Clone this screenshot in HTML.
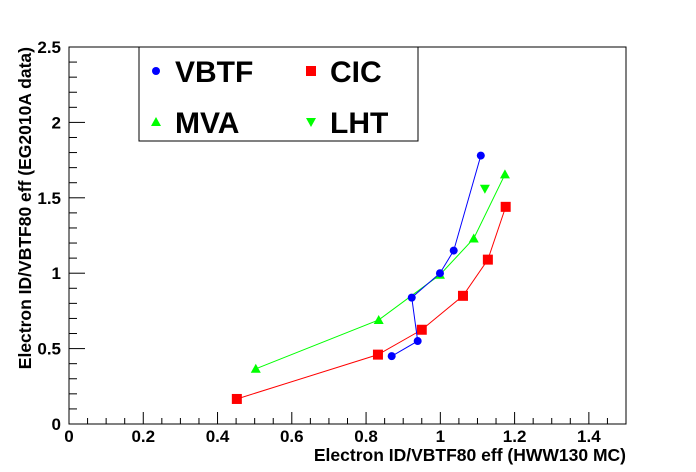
<!DOCTYPE html>
<html><head><meta charset="utf-8"><style>
body{margin:0;background:#fff;}
svg{display:block;font-family:"Liberation Sans",sans-serif;font-weight:bold;}
</style></head><body>
<svg id="c" width="696" height="472">
<rect width="696" height="472" fill="#fff"/>
</svg>
<script>
const vbtfX=[1.109,1.036,0.999,0.923,0.939,0.869];
const vbtfY=[1.78,1.15,1.00,0.838,0.55,0.45];
const cicX=[1.176,1.128,1.061,0.950,0.832,0.452];
const cicY=[1.44,1.09,0.85,0.625,0.46,0.166];
const mvaX=[1.174,1.090,0.999,0.834,0.503];
const mvaY=[1.655,1.23,0.99,0.69,0.366];
const lhtX=[1.12];
const lhtY=[1.56];
const xTicks=["0","0.2","0.4","0.6","0.8","1","1.2","1.4"];
const yTicks=["0","0.5","1","1.5","2","2.5"];
const L=69,R=626,T=47,B=424;
const sx=v=>L+v/1.5*(R-L), sy=v=>B-v/2.5*(B-T);
const svg=document.getElementById('c');const NS='http://www.w3.org/2000/svg';
function el(t,a,p){const e=document.createElementNS(NS,t);for(const k in a)e.setAttribute(k,a[k]);(p||svg).appendChild(e);return e;}
const fr=el('rect',{x:L,y:T,width:R-L,height:B-T,fill:'none',stroke:'#000','stroke-width':1});


for(let i=0;i<=30;i++){const v=i*0.05;const x=sx(v);const len=i%4==0?12:6;
 if(v>1.5001)break;
 const t=el('line',{x1:x,x2:x,y1:B,y2:B-len,stroke:'#000'});
 
 }
xTicks.forEach((s,i)=>{const t=el('text',{x:sx(i*0.2),y:B+18,'text-anchor':'middle','font-size':17});t.textContent=s;
 
 });
for(let i=0;i<=25;i++){const v=i*0.1;const y=sy(v);const len=i%5==0?16:8;
 const t=el('line',{x1:L,x2:L+len,y1:y,y2:y,stroke:'#000'});
 
 }
yTicks.forEach((s,i)=>{const t=el('text',{x:L-8,y:sy(i*0.5)+6,'text-anchor':'end','font-size':17});t.textContent=s;
 
 });
const xt=el('text',{x:R,y:461,'text-anchor':'end','font-size':17.5});xt.textContent='Electron ID/VBTF80 eff (HWW130 MC)';


const yt=el('text',{x:0,y:0,'text-anchor':'end','font-size':17.5,transform:'translate(31,47) rotate(-90)'});yt.textContent='Electron ID/VBTF80 eff (EG2010A data)';


function marker(type,x,y,col,g){
 if(type=='c')return el('circle',{cx:x,cy:y,r:4,fill:col},g);
 if(type=='s')return el('rect',{x:x-5,y:y-5,width:10,height:10,fill:col},g);
 if(type=='u')return el('polygon',{points:`${x},${y-5} ${x-5},${y+4} ${x+5},${y+4}`,fill:col},g);
 return el('polygon',{points:`${x},${y+5} ${x-5},${y-4} ${x+5},${y-4}`,fill:col},g);}
function series(name,X,Y,col,type,line){
 const g=el('g',{});
 
 
 if(line){const p=el('polyline',{points:X.map((v,i)=>sx(v)+','+sy(Y[i])).join(' '),fill:'none',stroke:col,'stroke-width':1},g);
  
  }
 X.forEach((v,i)=>{const m=marker(type,sx(v),sy(Y[i]),col,g);
  
  });}
series('mva',mvaX,mvaY,'#00ff00','u',true);
series('cic',cicX,cicY,'#ff0000','s',true);
series('vbtf',vbtfX,vbtfY,'#0000ff','c',true);
series('lht',lhtX,lhtY,'#00ff00','d',false);
const lg=el('g',{});


el('rect',{x:139,y:47,width:279,height:94,fill:'#fff',stroke:'#000'},lg);
[['VBTF','#0000ff','c',156,71],['CIC','#ff0000','s',311,71],['MVA','#00ff00','u',156,122],['LHT','#00ff00','d',311,122]].forEach(e=>{
 const m=marker(e[2],e[3],e[4],e[1],lg);
 
 
 const t=el('text',{x:e[3]+19,y:e[4]+11,'font-size':30},lg);t.textContent=e[0];
 
 });
</script>
</body></html>
